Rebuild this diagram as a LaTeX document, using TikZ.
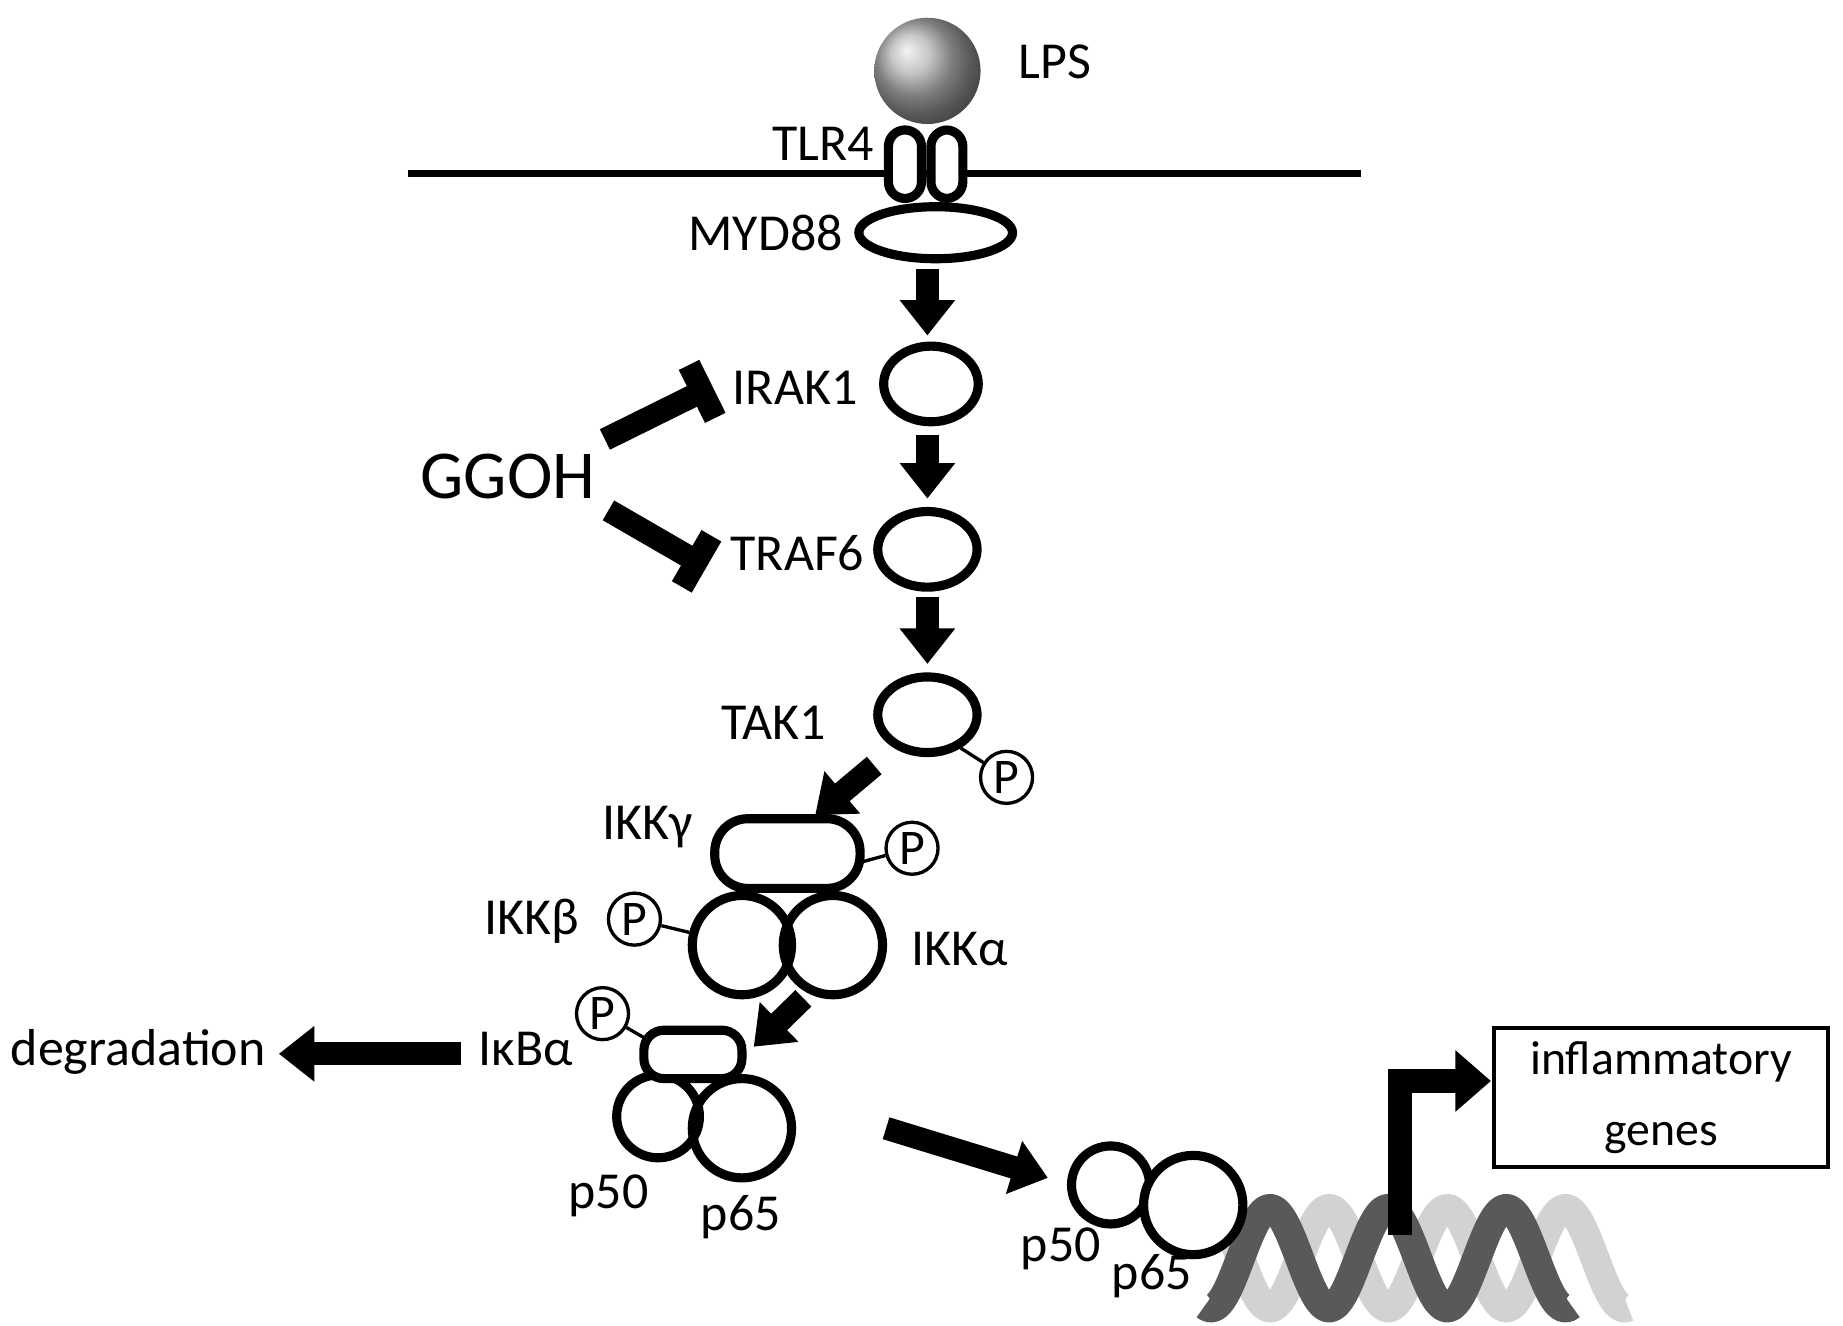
\documentclass[tikz,border=0pt]{standalone}
\usepackage{fontspec}
\setmainfont{Carlito}
\usetikzlibrary{arrows.meta,shapes.geometric}
\begin{document}
\begin{tikzpicture}[x=0.01cm,y=-0.01cm,
 lbl/.style={font=\fontsize{12.5}{14}\selectfont},
 prot/.style={draw,line width=2.2pt},
 pcirc/.style={draw,circle,line width=0.8pt,fill=white,minimum size=0.44cm,inner sep=0pt,font=\fontsize{12}{13}\selectfont},
 fat/.style={line width=5.5pt,-{Triangle[length=0.3cm,width=0.45cm]}},
 inh/.style={line width=5.5pt,-{Bar[width=0.5cm,line width=5.5pt]}}]
\useasboundingbox (0,0) rectangle (1560,1122);
% LPS
\shade[ball color=gray!60] (785,60) circle (45);
\node[lbl] (lps) at (893,52) {LPS};
% membrane
\draw[line width=1.8pt] (345,147) -- (1152,147);
\draw[prot,fill=white,rounded corners=4pt] (752,110) rectangle (780,168);
\draw[prot,fill=white,rounded corners=4pt] (788,110) rectangle (815,168);
\node[lbl] (tlr4) at (697,122) {TLR4};
\node[prot,ellipse,minimum width=1.3cm,minimum height=0.44cm] (myd) at (792,197) {};
\node[lbl] (mydl) at (648,197) {MYD88};
\node[prot,ellipse,minimum width=0.8cm,minimum height=0.64cm] (irak) at (788,325) {};
\node[lbl] (irakl) at (673,328) {IRAK1};
\node[prot,ellipse,minimum width=0.84cm,minimum height=0.64cm] (traf) at (785,465) {};
\node[lbl] (trafl) at (675,468) {TRAF6};
\node[prot,ellipse,minimum width=0.84cm,minimum height=0.64cm] (tak) at (785,605) {};
\node[lbl] (takl) at (655,612) {TAK1};
\node[pcirc] (p1) at (852,658) {P};
\draw[line width=0.8pt] (tak.-45) -- (p1);
\draw[fat] (785,228) -- (785,284);
\draw[fat] (785,368) -- (785,422);
\draw[fat] (785,505) -- (785,562);
\draw[fat] (740,648) -- (690,690);
% IKK
\node[prot,circle,minimum size=0.84cm] (ikkb) at (628,800) {};
\node[prot,circle,minimum size=0.84cm] (ikka) at (705,800) {};
\draw[prot,fill=white,rounded corners=0.28cm] (605,693) rectangle (728,752);
\node[lbl] (ikkgl) at (548,700) {IKKγ};
\node[lbl] (ikkbl) at (450,780) {IKKβ};
\node[lbl] (ikkal) at (812,803) {IKKα};
\node[pcirc] (p2) at (772,718) {P};
\draw[line width=0.8pt] (728,730) -- (p2);
\node[pcirc] (p3) at (537,778) {P};
\draw[line width=0.8pt] (p3) -- (ikkb);
\draw[fat] (680,845) -- (638,886);
% IkB complex
\node[prot,circle,minimum size=0.7cm] (p50a) at (557,945) {};
\node[prot,circle,minimum size=0.84cm] (p65a) at (628,955) {};
\draw[prot,fill=white,rounded corners=0.17cm] (545,872) rectangle (628,913);
\node[lbl] (ikbl) at (445,888) {IκBα};
\node[pcirc] (p4) at (510,858) {P};
\draw[line width=0.8pt] (p4) -- (548,880);
\node[lbl] (p50al) at (515,1012) {p50};
\node[lbl] (p65al) at (627,1030) {p65};
\draw[fat] (390,892) -- (236,892);
\node[lbl] (deg) at (117,890) {degradation};
\draw[fat] (750,955) -- (887,997);
% DNA
\draw[line width=7pt,gray!35] plot[domain=1030:1378,samples=250] (\x,{1065+42*sin(\x*3.6+180)});
\draw[line width=7pt,gray!70!black] plot[domain=1020:1330,samples=250] (\x,{1065+42*sin(\x*3.6)});
\node[prot,circle,minimum size=0.66cm,fill=white] (p50b) at (940,1003) {};
\node[prot,circle,minimum size=0.84cm,fill=white] (p65b) at (1010,1020) {};
\node[lbl] (p50bl) at (898,1057) {p50};
\node[lbl] (p65bl) at (975,1080) {p65};
\draw[line width=6pt,-{Triangle[length=0.3cm,width=0.5cm]}] (1185,1045) -- (1185,915) -- (1262,915);
\node[draw,line width=1pt,minimum width=2.83cm,minimum height=0.92cm,align=center,font=\fontsize{11.5}{17}\selectfont] (genes) at (1406,929) {inflammatory\\genes};
% GGOH
\node[font=\fontsize{16.5}{18}\selectfont] (ggoh) at (430,403) {GGOH};
\draw[inh] (512,372) -- (603,327);
\draw[inh] (515,432) -- (598,480);
\end{tikzpicture}
\end{document}
